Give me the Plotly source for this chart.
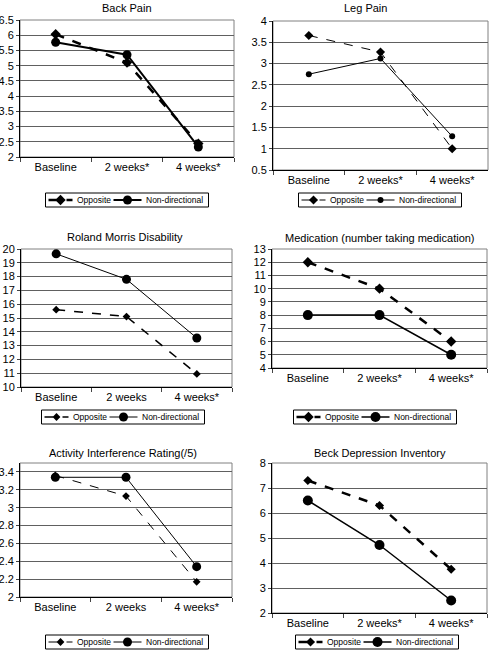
import plotly.graph_objects as go

W, H = 490, 651

titles = ["Back Pain", "Leg Pain", "Roland Morris Disability",
          "Medication (number taking medication)", "Activity Interference Rating(/5)",
          "Beck Depression Inventory"]

cats_back = ["Baseline", "2 weeks*", "4 weeks*"]
cats_leg = ["Baseline", "2 weeks*", "4 weeks*"]
cats_rm = ["Baseline", "2 weeks", "4 weeks*"]
cats_med = ["Baseline", "2 weeks*", "4 weeks*"]
cats_act = ["Baseline", "2 weeks", "4 weeks*"]
cats_beck = ["Baseline", "2 weeks*", "4 weeks*"]

opp_back = [6.03, 5.1, 2.44]
non_back = [5.77, 5.36, 2.33]
opp_leg = [3.66, 3.27, 1.0]
non_leg = [2.75, 3.12, 1.29]
opp_rm = [15.6, 15.1, 10.95]
non_rm = [19.65, 17.8, 13.55]
opp_med = [12, 10, 6]
non_med = [8, 8, 5]
opp_act = [3.36, 3.13, 2.17]
non_act = [3.34, 3.34, 2.34]
opp_beck = [7.3, 6.3, 3.75]
non_beck = [6.5, 4.72, 2.5]

series_names = ["Opposite", "Non-directional"]

panels = [
    dict(cats=cats_back, opp=opp_back, non=non_back, yr=[2, 6.5], dt=0.5,
         px=(20, 234, 20, 157), title=(127, 8), leg=(127, 200),
         ow=2.5, nw=2, od="dash", dsz=8, csz=9),
    dict(cats=cats_leg, opp=opp_leg, non=non_leg, yr=[0.5, 4], dt=0.5,
         px=(273, 488, 21, 170), title=(365, 8), leg=(380, 200),
         ow=1, nw=1, od="dash", dsz=7, csz=6),
    dict(cats=cats_rm, opp=opp_rm, non=non_rm, yr=[10, 20], dt=1,
         px=(21, 232, 249, 387), title=(125, 237), leg=(123, 417),
         ow=1.5, nw=1, od="dash", dsz=6, csz=9),
    dict(cats=cats_med, opp=opp_med, non=non_med, yr=[4, 13], dt=1,
         px=(272, 487, 249, 368), title=(380, 238), leg=(375, 417),
         ow=2.5, nw=1.5, od="dash", dsz=8, csz=10),
    dict(cats=cats_act, opp=opp_act, non=non_act, yr=[2, 3.5], dt=0.2,
         px=(20, 232, 463, 597), title=(123, 453), leg=(127, 642),
         ow=1, nw=1, od="dash", dsz=6, csz=9),
    dict(cats=cats_beck, opp=opp_beck, non=non_beck, yr=[2, 8], dt=1,
         px=(272, 487, 463, 613), title=(380, 453), leg=(377, 642),
         ow=2.5, nw=1.5, od="dash", dsz=7, csz=10),
]

fig = go.Figure()
font = "Liberation Sans, Arial, sans-serif"
layout = dict(width=W, height=H, margin=dict(l=0, r=0, t=0, b=0, autoexpand=False),
              paper_bgcolor="white", plot_bgcolor="white",
              font=dict(family=font, size=11, color="black"),
              showlegend=False)
annotations = []
shapes = []


def px2x(v):
    return v / W


def px2y(v):
    return 1 - v / H


def legend_box(cx, cy, p):
    """Boxed legend drawn in pixel layout, like the original spreadsheet chart."""
    lw, lh = 163, 14
    left, top = cx - lw / 2, cy - lh / 2
    shapes.append(dict(type="rect", xref="paper", yref="paper",
                       x0=px2x(left), x1=px2x(left + lw), y0=px2y(top + lh), y1=px2y(top),
                       line=dict(color="black", width=1), fillcolor="white"))
    # Opposite entry
    shapes.append(dict(type="line", xref="paper", yref="paper",
                       x0=px2x(left + 3), x1=px2x(left + 27), y0=px2y(cy), y1=px2y(cy),
                       line=dict(color="black", width=p["ow"], dash=p["od"])))
    mx = left + 15
    r = 0.65 * p["dsz"]
    shapes.append(dict(type="path", xref="paper", yref="paper",
                       path=(f"M {px2x(mx - r)},{px2y(cy)} L {px2x(mx)},{px2y(cy - r)} "
                             f"L {px2x(mx + r)},{px2y(cy)} L {px2x(mx)},{px2y(cy + r)} Z"),
                       fillcolor="black", line=dict(color="black", width=0)))
    annotations.append(dict(text=series_names[0], x=px2x(left + 29), y=px2y(cy),
                            xref="paper", yref="paper", showarrow=False,
                            xanchor="left", yanchor="middle",
                            font=dict(size=8.5, family=font)))
    # Non-directional entry
    shapes.append(dict(type="line", xref="paper", yref="paper",
                       x0=px2x(left + 68), x1=px2x(left + 96), y0=px2y(cy), y1=px2y(cy),
                       line=dict(color="black", width=p["nw"])))
    mx = left + 82
    r = p["csz"] / 2
    shapes.append(dict(type="circle", xref="paper", yref="paper",
                       x0=px2x(mx - r), x1=px2x(mx + r), y0=px2y(cy + r), y1=px2y(cy - r),
                       fillcolor="black", line=dict(color="black", width=0)))
    annotations.append(dict(text=series_names[1], x=px2x(left + 98), y=px2y(cy),
                            xref="paper", yref="paper", showarrow=False,
                            xanchor="left", yanchor="middle",
                            font=dict(size=8.5, family=font)))


for i, p in enumerate(panels):
    n = i + 1
    xa = "x" if n == 1 else f"x{n}"
    ya = "y" if n == 1 else f"y{n}"
    x0, x1, y0, y1 = p["px"]
    fig.add_trace(go.Scatter(
        x=p["cats"], y=p["opp"], name=series_names[0], mode="lines+markers",
        line=dict(color="black", width=p["ow"], dash=p["od"]),
        marker=dict(symbol="diamond", size=p["dsz"], color="black"),
        xaxis=xa, yaxis=ya))
    fig.add_trace(go.Scatter(
        x=p["cats"], y=p["non"], name=series_names[1], mode="lines+markers",
        line=dict(color="black", width=p["nw"]),
        marker=dict(symbol="circle", size=p["csz"], color="black"),
        xaxis=xa, yaxis=ya))
    xk = "xaxis" if n == 1 else f"xaxis{n}"
    yk = "yaxis" if n == 1 else f"yaxis{n}"
    layout[xk] = dict(domain=[x0 / W, x1 / W], anchor=ya, type="category",
                      range=[-0.5, 2.5],
                      tickson="boundaries", ticks="outside", ticklen=4,
                      showline=True, linecolor="black", linewidth=1,
                      showgrid=False, tickfont=dict(size=11), fixedrange=True)
    layout[yk] = dict(domain=[1 - y1 / H, 1 - y0 / H], anchor=xa,
                      range=p["yr"], dtick=p["dt"], tick0=p["yr"][0],
                      ticks="outside", ticklen=3, showline=True,
                      linecolor="black", linewidth=1, showgrid=True,
                      gridcolor="#606060", gridwidth=1, zeroline=False,
                      tickfont=dict(size=11), fixedrange=True)
    shapes.append(dict(type="rect", xref=f"{xa} domain", yref=f"{ya} domain",
                       x0=0, x1=1, y0=0, y1=1, line=dict(color="#808080", width=1),
                       layer="below"))
    annotations.append(dict(text=titles[i], x=p["title"][0] / W, y=1 - p["title"][1] / H,
                            xref="paper", yref="paper", showarrow=False,
                            xanchor="center", yanchor="middle",
                            font=dict(size=11, family=font)))
    legend_box(p["leg"][0], p["leg"][1], p)

layout["annotations"] = annotations
layout["shapes"] = shapes
fig.update_layout(**layout)
fig.write_html("out.html", config={"displayModeBar": False},
               post_script="document.body.style.margin='0px';")
